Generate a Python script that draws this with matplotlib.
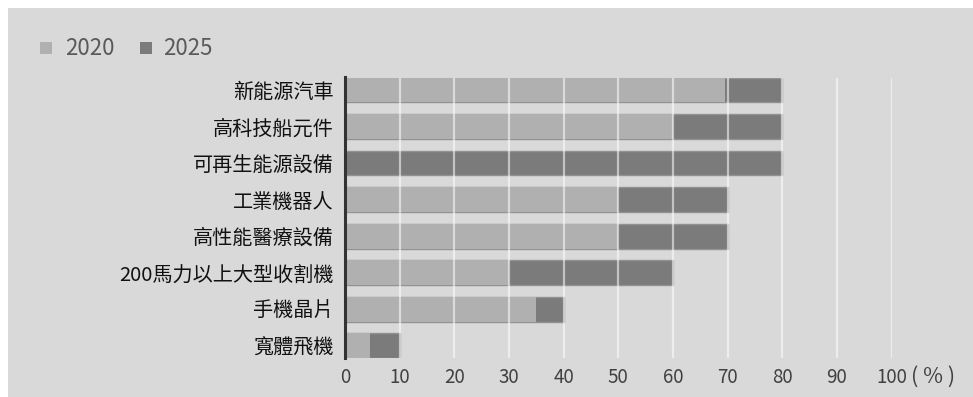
import matplotlib
matplotlib.use("Agg")
import matplotlib.pyplot as plt
from matplotlib.patches import Rectangle

plt.rcParams['font.family'] = ['Noto Sans CJK TC', 'DejaVu Sans']

categories = ["新能源汽車", "高科技船元件", "可再生能源設備", "工業機器人",
              "高性能醫療設備", "200馬力以上大型收割機", "手機晶片", "寬體飛機"]
values_2020 = [69.5, 60, 0, 50, 50, 30, 35, 4.5]
values_2025 = [80, 80, 80, 70, 70, 60, 40, 10]
series_names = ["2020", "2025"]
xticks = [0, 10, 20, 30, 40, 50, 60, 70, 80, 90, 100]
xtick_labels = ["0", "10", "20", "30", "40", "50", "60", "70", "80", "90", "100"]
unit_label = "( % )"

W, H = 973, 397
fig = plt.figure(figsize=(W / 100, H / 100), dpi=100, facecolor="white")

bg = "#d9d9d9"
c2020 = "#b0b0b0"
c2025 = "#7b7b7b"

# grey panel
fig.patches.append(Rectangle((8 / W, 0), 1 - 8 / W, (H - 8) / H,
                             transform=fig.transFigure, facecolor=bg,
                             edgecolor="none", zorder=-10))

left, right = 345 / W, 891.5 / W
top, bottom = 1 - 77.5 / H, 1 - 358.3 / H
ax = fig.add_axes([left, bottom, right - left, top - bottom])
ax.set_facecolor("none")

y = list(range(len(categories)))
bh = 0.68
ax.barh(y, values_2025, height=bh, color=c2025, edgecolor="#929292",
        linewidth=1.0, zorder=2)
ax.barh(y, values_2020, height=bh, color=c2020, edgecolor="none",
        linewidth=0, zorder=2.5)

for xv in xticks[1:]:
    ax.axvline(xv, color="white", alpha=0.55, linewidth=1.6, zorder=3)

ax.set_xlim(0, 100)
ax.set_ylim(len(categories) - 1 + bh / 2, -bh / 2)
ax.set_yticks(y)
ax.set_yticklabels(categories, fontsize=14.5, color="#111111")
ax.set_xticks(xticks)
ax.set_xticklabels(xtick_labels, fontsize=13.5, color="#404040")
ax.tick_params(axis="both", length=0)
ax.tick_params(axis="y", pad=8)
ax.tick_params(axis="x", pad=6.5)
for s in ["top", "right", "bottom"]:
    ax.spines[s].set_visible(False)
ax.spines["left"].set_color("#333333")
ax.spines["left"].set_linewidth(2.2)
ax.spines["left"].set_zorder(4)

# unit after the 100 tick
fig.text(911 / W, 1 - 376.5 / H, unit_label, fontsize=15.5, color="#404040",
         ha="left", va="center")

# legend
for xs, xt, name, col in [(40, 65, series_names[0], c2020),
                          (140, 163, series_names[1], c2025)]:
    fig.patches.append(Rectangle((xs / W, 1 - 54 / H), 12 / W, 12 / H,
                                 transform=fig.transFigure, facecolor=col,
                                 edgecolor="none", zorder=1))
    fig.text(xt / W, 1 - 48.5 / H, name, fontsize=16, color="#5a5a5a",
             ha="left", va="center")

fig.savefig("out.png", dpi=100, facecolor="white")
